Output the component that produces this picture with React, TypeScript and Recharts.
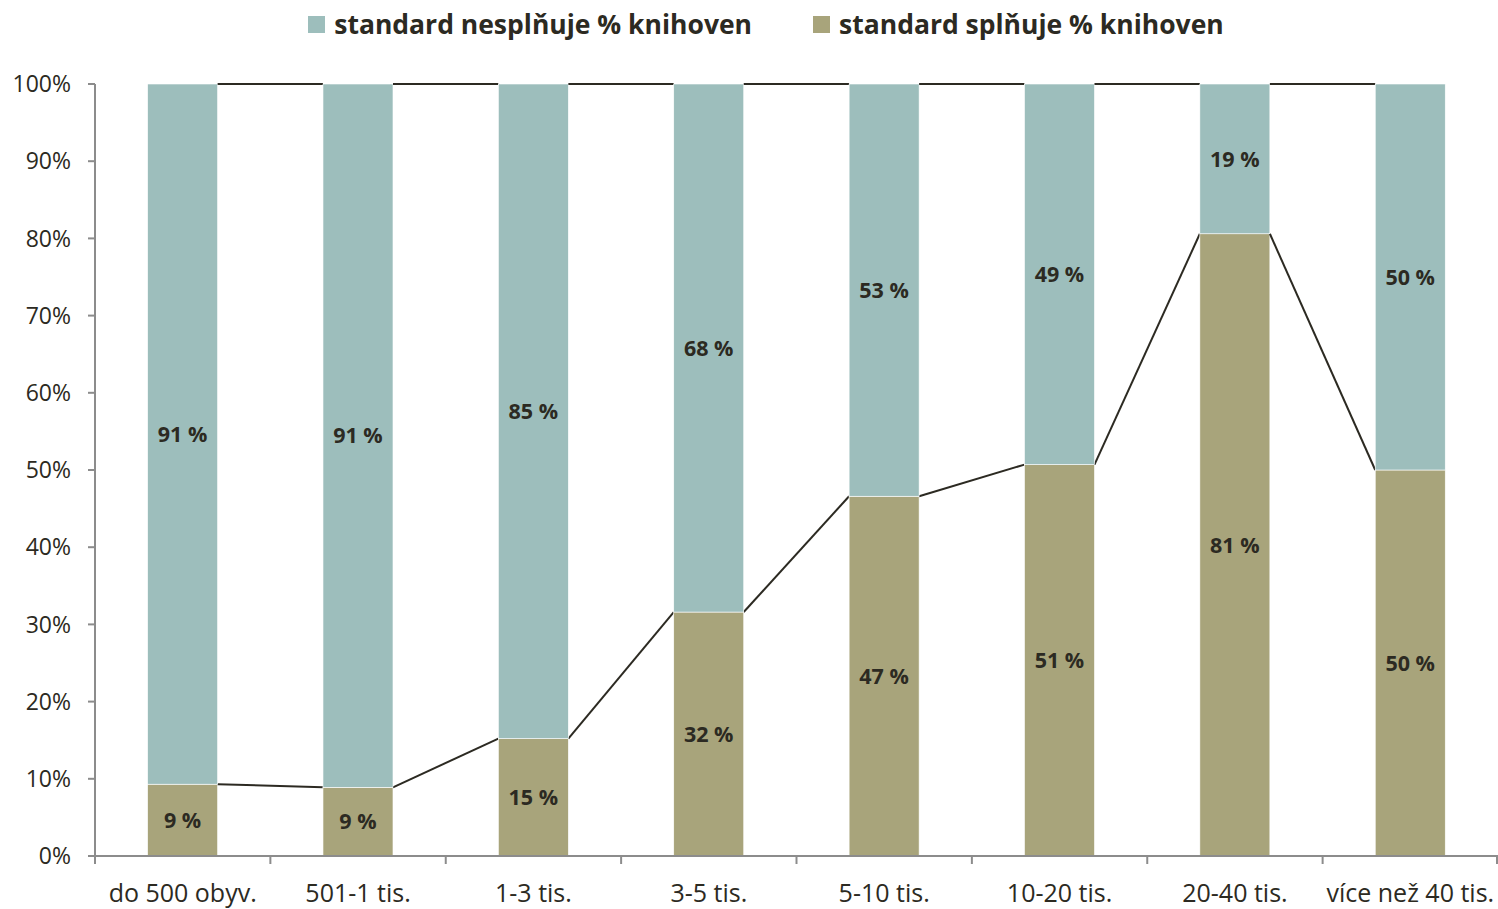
import React from 'react';
import { BarChart, Bar, XAxis, YAxis, LabelList, Legend } from 'recharts';

const categories = ['do 500 obyv.', '501-1 tis.', '1-3 tis.', '3-5 tis.', '5-10 tis.', '10-20 tis.', '20-40 tis.', 'více než 40 tis.'];
const splnuje = [9.3, 8.9, 15.2, 31.6, 46.6, 50.7, 80.6, 50.0];
const nesplnuje = [90.7, 91.1, 84.8, 68.4, 53.4, 49.3, 19.4, 50.0];
const yTicks = [0, 10, 20, 30, 40, 50, 60, 70, 80, 90, 100];

const data = categories.map((c, i) => ({ name: c, spl: splnuje[i], nespl: nesplnuje[i] }));

const W = 1498;
const H = 909;
const Y_AXIS_W = 95;
const BAND = (W - Y_AXIS_W) / categories.length;
const COL_TEAL = '#9DBEBC';
const COL_OLIVE = '#A8A47B';
const TEXT = '#2C2A22';
const AXIS = '#8C8C8C';
const FONT = '"Open Sans", Lato, sans-serif';

const BottomShape = (props: any) => {
  const { x, y, width, height, index, fill } = props;
  const base = y + height;
  const v = splnuje[index];
  const next = splnuje[index + 1];
  const pxPer = height / v;
  return (
    <g>
      <rect x={x} y={y} width={width} height={height} fill={fill} stroke="#ffffff" strokeWidth={0.6} />
      {next !== undefined && (
        <line x1={x + width} y1={y} x2={x + BAND} y2={base - next * pxPer} stroke={TEXT} strokeWidth={2} />
      )}
    </g>
  );
};

const TopShape = (props: any) => {
  const { x, y, width, height, index, fill } = props;
  return (
    <g>
      <rect x={x} y={y} width={width} height={height} fill={fill} stroke="#ffffff" strokeWidth={0.6} />
      {index < categories.length - 1 && (
        <line x1={x + width} y1={y} x2={x + BAND} y2={y} stroke={TEXT} strokeWidth={2} />
      )}
    </g>
  );
};

const XTick = (props: any) => {
  const { x, y, payload, index } = props;
  const last = index === categories.length - 1;
  return (
    <g>
      <line x1={x - BAND / 2} y1={y} x2={x - BAND / 2} y2={y + 8} stroke={AXIS} strokeWidth={2} />
      {last && <line x1={x + BAND / 2 - 1} y1={y} x2={x + BAND / 2 - 1} y2={y + 8} stroke={AXIS} strokeWidth={2} />}
      <text x={x} y={y + 46} textAnchor="middle" fill={TEXT} fontSize={25} fontFamily={FONT}>
        {payload.value}
      </text>
    </g>
  );
};

const LegendContent = () => {
  const items = [
    { label: 'standard nesplňuje % knihoven', color: COL_TEAL },
    { label: 'standard splňuje % knihoven', color: COL_OLIVE },
  ];
  return (
    <div style={{ display: 'flex', justifyContent: 'center', gap: 61, paddingLeft: 34, fontFamily: FONT }}>
      {items.map((it) => (
        <div key={it.label} style={{ display: 'flex', alignItems: 'center' }}>
          <span style={{ display: 'inline-block', width: 17, height: 17, background: it.color, marginRight: 9 }} />
          <span style={{ fontSize: 26.5, fontWeight: 700, color: TEXT, lineHeight: '30px' }}>{it.label}</span>
        </div>
      ))}
    </div>
  );
};

const fmt = (v: any) => `${Math.round(Number(v))} %`;

export default function App() {
  return (
    <div style={{ position: 'absolute', left: 0, top: 0, width: W, height: H, background: '#fff' }}>
      <BarChart
        width={W}
        height={H}
        data={data}
        margin={{ top: 54, right: 0, bottom: 0, left: 0 }}
        barCategoryGap="30%"
      >
        <Legend verticalAlign="top" content={<LegendContent />} wrapperStyle={{ top: 9, left: 0, width: W }} />
        <XAxis
          dataKey="name"
          interval={0}
          height={53}
          tickLine={false}
          tickSize={0}
          tickMargin={0}
          axisLine={{ stroke: AXIS, strokeWidth: 2 }}
          tick={<XTick />}
        />
        <YAxis
          width={Y_AXIS_W}
          domain={[0, 100]}
          ticks={yTicks}
          interval={0}
          tickFormatter={(v: number) => `${v}%`}
          axisLine={{ stroke: AXIS, strokeWidth: 2 }}
          tickLine={{ stroke: AXIS, strokeWidth: 2 }}
          tickSize={7}
          tickMargin={17}
          tick={{ fill: TEXT, fontSize: 23, fontFamily: FONT }}
        />
        <Bar dataKey="spl" stackId="a" fill={COL_OLIVE} isAnimationActive={false} shape={<BottomShape />}>
          <LabelList dataKey="spl" position="center" formatter={fmt} fill={TEXT} fontSize={21.5} fontWeight={700} fontFamily={FONT} />
        </Bar>
        <Bar dataKey="nespl" stackId="a" fill={COL_TEAL} isAnimationActive={false} shape={<TopShape />}>
          <LabelList dataKey="nespl" position="center" formatter={fmt} fill={TEXT} fontSize={21.5} fontWeight={700} fontFamily={FONT} />
        </Bar>
      </BarChart>
    </div>
  );
}
